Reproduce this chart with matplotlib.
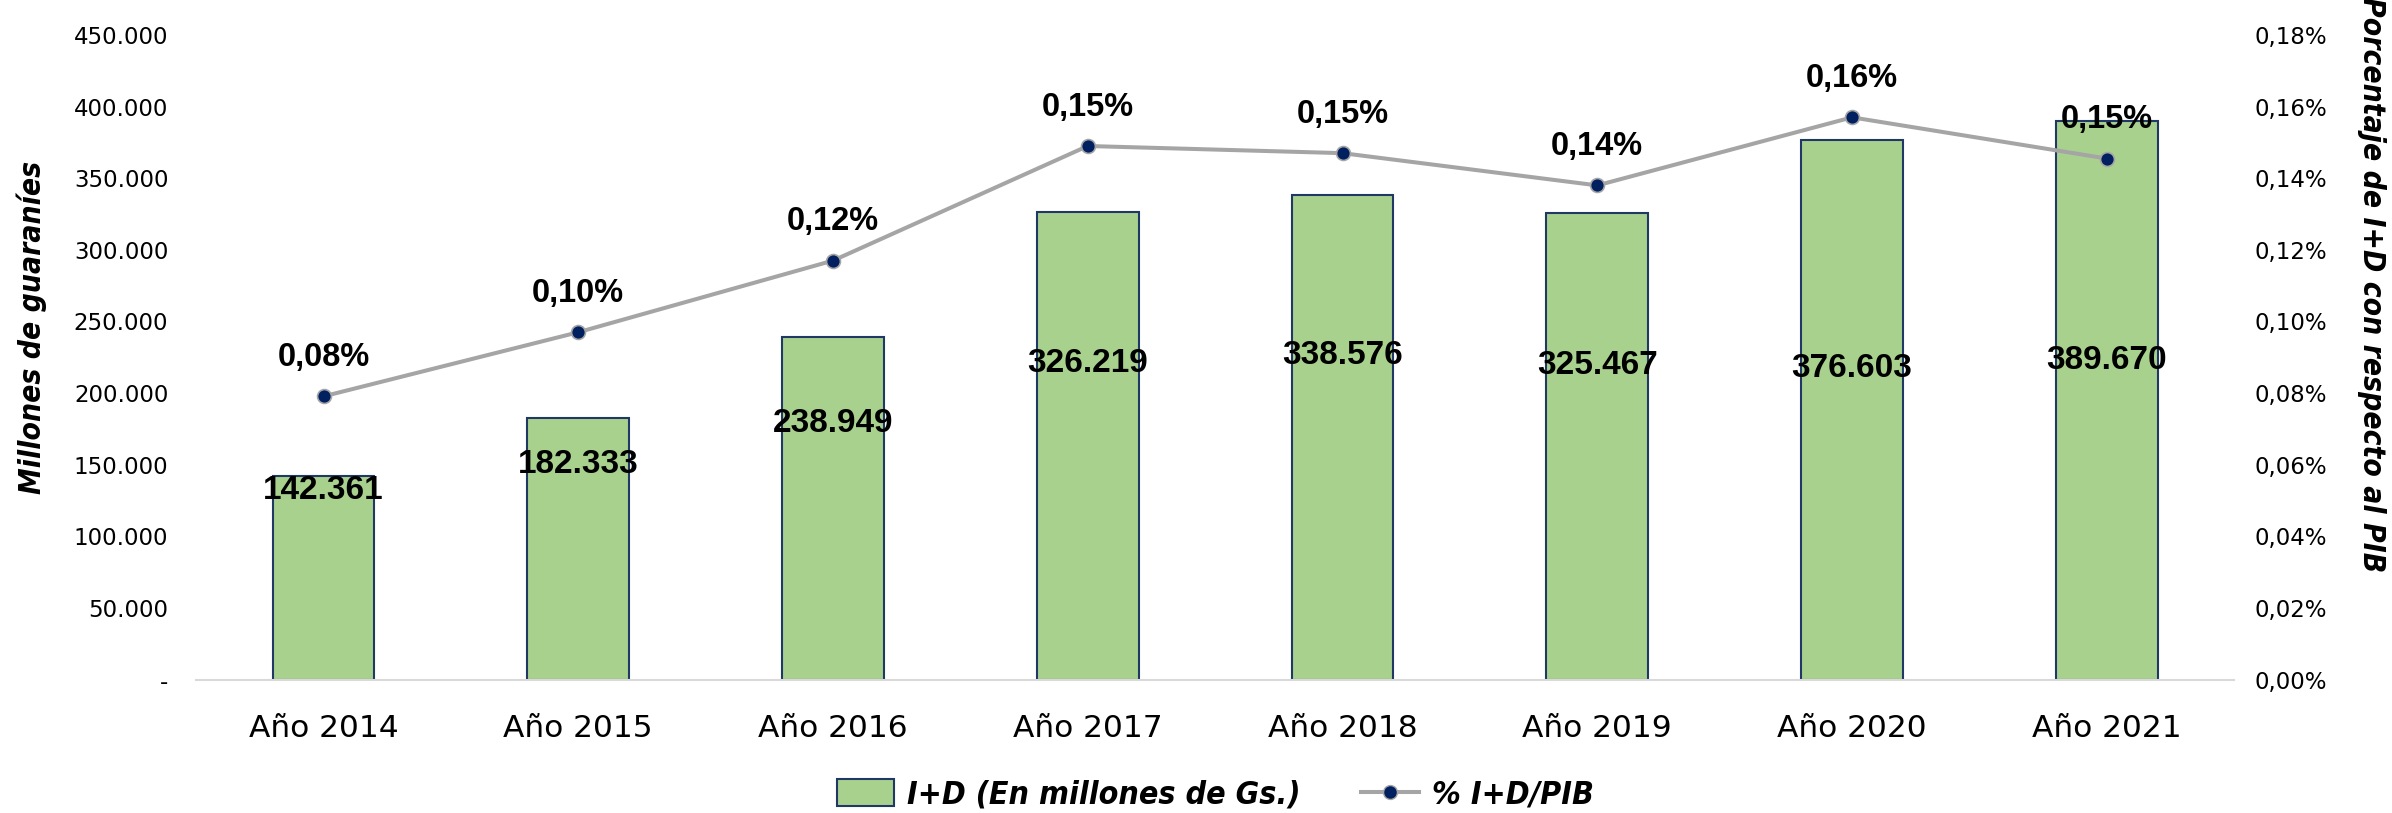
import matplotlib.pyplot as plt
from matplotlib.ticker import FuncFormatter
from matplotlib.lines import Line2D
from matplotlib.patches import Patch

years = ['Año 2014', 'Año 2015', 'Año 2016', 'Año 2017', 'Año 2018', 'Año 2019', 'Año 2020', 'Año 2021']
gasto = [142361, 182333, 238949, 326219, 338576, 325467, 376603, 389670]
pct_pib = [0.0791, 0.0970, 0.1170, 0.1490, 0.1470, 0.1380, 0.1570, 0.1455]
# where the value labels sit inside the bars (as placed in the original)
label_y = [132000, 150000, 179000, 221000, 226000, 219000, 217000, 223000]

green = '#A9D18E'
navy = '#002060'
gray = '#A5A5A5'

title_kw = dict(family='DejaVu Sans', stretch='condensed', fontweight='bold', style='italic')

fig = plt.figure(figsize=(23.92, 8.13), dpi=100)
ax = fig.add_axes([0.082, 0.164, 0.852, 0.793])
ax2 = ax.twinx()

x = list(range(len(years)))
ax.bar(x, gasto, width=0.4, color=green, edgecolor='#1F3864', linewidth=1.5, zorder=2)
for i, v in enumerate(gasto):
    s = f'{v:,}'.replace(',', '.')
    ax.text(i, label_y[i], s, ha='center', va='center', fontsize=24,
            fontweight='bold', family='Liberation Sans', zorder=5)

ax.set_xlim(-0.5, len(years) - 0.5)
ax.set_ylim(0, 450000)
ax.set_yticks(range(0, 450001, 50000))
ax.yaxis.set_major_formatter(FuncFormatter(lambda v, p: '-' if v == 0 else f'{int(v):,}'.replace(',', '.')))
ax.set_xticks(x)
ax.set_xticklabels(years, fontsize=22.5)
ax.tick_params(axis='y', labelsize=16.5, length=0, pad=20)
ax.tick_params(axis='x', length=0, pad=25)
for s in ['top', 'right', 'left']:
    ax.spines[s].set_visible(False)
ax.spines['bottom'].set_color('#D9D9D9')
ax.spines['bottom'].set_linewidth(1.5)
ax.set_ylabel('Millones de guaraníes', fontsize=21.5, va='center', **title_kw)
ax.yaxis.set_label_coords(-0.0807, 0.547)

ax2.plot(x, pct_pib, color=gray, linewidth=2.9, marker='o', markersize=10,
         markerfacecolor=navy, markeredgecolor=gray, markeredgewidth=1.2, zorder=3)
for i, v in enumerate(pct_pib):
    ax2.annotate(f'{v:.2f}%'.replace('.', ','), (i, v), xytext=(0, 28), textcoords='offset points',
                 ha='center', va='center', fontsize=23.5, fontweight='bold', family='Liberation Sans')
ax2.set_ylim(0, 0.18)
ax2.set_yticks([i * 0.02 for i in range(10)])
ax2.yaxis.set_major_formatter(FuncFormatter(lambda v, p: f'{v:.2f}%'.replace('.', ',')))
ax2.tick_params(axis='y', labelsize=16.5, length=0, pad=15)
for s in ['top', 'right', 'left', 'bottom']:
    ax2.spines[s].set_visible(False)
ax2.set_ylabel('Porcentaje de I+D con respecto al PIB', fontsize=21.5, rotation=270, va='center', **title_kw)
ax2.yaxis.set_label_coords(1.0675, 0.612)

handles = [Patch(facecolor=green, edgecolor='#1F3864', linewidth=1.5),
           Line2D([0], [0], color=gray, linewidth=2.9, marker='o', markersize=10,
                  markerfacecolor=navy, markeredgecolor=gray)]
fig.legend(handles, ['I+D (En millones de Gs.)', '% I+D/PIB'], loc='center', bbox_to_anchor=(0.508, 0.022),
           ncol=2, frameon=False, prop={'family': 'DejaVu Sans', 'stretch': 'condensed', 'weight': 'bold',
                                        'style': 'italic', 'size': 23},
           columnspacing=1.9, handlelength=1.8, handleheight=0.9, handletextpad=0.4)

fig.savefig('out.png', dpi=100)
